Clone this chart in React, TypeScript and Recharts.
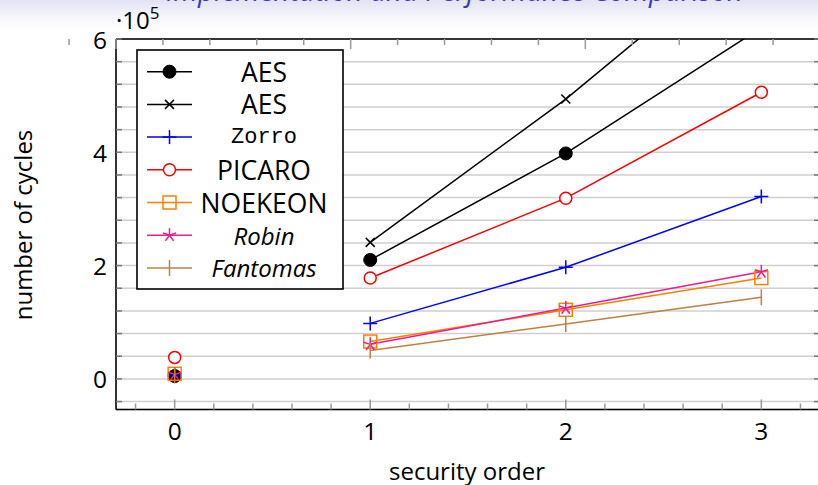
import React from 'react';
import { LineChart, Line, XAxis, YAxis, CartesianGrid } from 'recharts';

// ---------- data (number of cycles, in units of 10^5) ----------
const securityOrders = [0, 1, 2, 3];
const aesDotCycles = [0.05, 2.1, 3.98, 6.2];
const aesCrossCycles = [0.06, 2.41, 4.94, 7.79];
const zorroCycles = [0.08, 0.98, 1.97, 3.22];
const picaroCycles = [0.38, 1.78, 3.19, 5.06];
const noekeonCycles = [0.09, 0.66, 1.22, 1.78];
const robinCycles = [0.08, 0.61, 1.25, 1.89];
const fantomasCycles = [0.06, 0.5, 0.97, 1.44];

const xTicks = [-0.2, 0, 0.2, 0.4, 0.6, 0.8, 1, 1.2, 1.4, 1.6, 1.8, 2, 2.2, 2.4, 2.6, 2.8, 3, 3.2];
const xTickLabels = [0, 1, 2, 3];
const yTicks = [-0.4, 0, 0.4, 0.8, 1.2, 1.6, 2, 2.4, 2.8, 3.2, 3.6, 4, 4.4, 4.8, 5.2, 5.6, 6];
const yTickLabels = [0, 2, 4, 6];

const titleText = 'Implementation and Performance Comparison';
const xLabel = 'security order';
const yLabel = 'number of cycles';

// ---------- layout ----------
const W = 830;
const H = 485;
const PLOT_LEFT = 116;
const PLOT_RIGHT = 820;
const PLOT_TOP = 39;
const PLOT_BOTTOM = 409.5;
const X_AXIS_H = 30;
const Y_AXIS_W = 30;
const TOP_AXIS_H = 10;
const RIGHT_AXIS_W = 10;
const MARGIN = {
  top: PLOT_TOP - TOP_AXIS_H,
  right: W - PLOT_RIGHT - RIGHT_AXIS_W,
  bottom: H - PLOT_BOTTOM - X_AXIS_H,
  left: PLOT_LEFT - Y_AXIS_W,
};
const X_DOMAIN: [number, number] = [-0.3, 3.3];
const Y_DOMAIN: [number, number] = [-0.54, 6];
const FONT = '"Open Sans", "DejaVu Sans", sans-serif';
const TICK_COLOR = '#999999';

type MarkerKind = 'dot' | 'cross' | 'plus' | 'circle' | 'square' | 'star' | 'bar';

const series: {
  key: string;
  name: string;
  values: number[];
  color: string;
  marker: MarkerKind;
  font: string;
  italic?: boolean;
  size: number;
}[] = [
  { key: 'aesDot', name: 'AES', values: aesDotCycles, color: '#000000', marker: 'dot', font: FONT, size: 26.5 },
  { key: 'aesCross', name: 'AES', values: aesCrossCycles, color: '#000000', marker: 'cross', font: FONT, size: 26.5 },
  { key: 'zorro', name: 'Zorro', values: zorroCycles, color: '#0000ff', marker: 'plus', font: '"Liberation Mono", "DejaVu Sans Mono", monospace', size: 22 },
  { key: 'picaro', name: 'PICARO', values: picaroCycles, color: '#ff0000', marker: 'circle', font: FONT, size: 26.5 },
  { key: 'noekeon', name: 'NOEKEON', values: noekeonCycles, color: '#ff8000', marker: 'square', font: FONT, size: 26.5 },
  { key: 'robin', name: 'Robin', values: robinCycles, color: '#ea1e8e', marker: 'star', font: FONT, italic: true, size: 24 },
  { key: 'fantomas', name: 'Fantomas', values: fantomasCycles, color: '#bf8040', marker: 'bar', font: FONT, italic: true, size: 24 },
];

// rows: order 0 is an isolated mark, orders 1..3 are connected
const rows = securityOrders.map((order, i) => {
  const row: Record<string, number> = { order };
  series.forEach((s) => {
    if (i === 0) row[s.key + '_start'] = s.values[i];
    else row[s.key] = s.values[i];
  });
  return row;
});

const near = (a: number, list: number[]) => list.some((v) => Math.abs(v - a) < 1e-6);

function Marker({ kind, x, y, color }: { kind: MarkerKind; x: number; y: number; color: string }) {
  const sw = 1.5;
  switch (kind) {
    case 'dot':
      return <circle cx={x} cy={y} r={6.5} fill={color} stroke={color} strokeWidth={1} />;
    case 'cross':
      return (
        <g stroke={color} strokeWidth={sw}>
          <line x1={x - 4.5} y1={y - 4.5} x2={x + 4.5} y2={y + 4.5} />
          <line x1={x - 4.5} y1={y + 4.5} x2={x + 4.5} y2={y - 4.5} />
        </g>
      );
    case 'plus':
      return (
        <g stroke={color} strokeWidth={sw}>
          <line x1={x - 7} y1={y} x2={x + 7} y2={y} />
          <line x1={x} y1={y - 7} x2={x} y2={y + 7} />
        </g>
      );
    case 'circle':
      return <circle cx={x} cy={y} r={6} fill="#ffffff" stroke={color} strokeWidth={sw} />;
    case 'square':
      return <rect x={x - 6.5} y={y - 6.5} width={13} height={13} fill="none" stroke={color} strokeWidth={sw} />;
    case 'star': {
      const arms = [0, 1, 2, 3, 4].map((k) => {
        const a = -Math.PI / 2 + (k * 2 * Math.PI) / 5;
        return <line key={k} x1={x} y1={y} x2={x + 7 * Math.cos(a)} y2={y + 7 * Math.sin(a)} />;
      });
      return <g stroke={color} strokeWidth={sw}>{arms}</g>;
    }
    case 'bar':
      return <line x1={x} y1={y - 8} x2={x} y2={y + 8} stroke={color} strokeWidth={sw} />;
  }
  return null;
}

const makeDot = (kind: MarkerKind, color: string) => (props: any) => {
  const { cx, cy, index } = props;
  const k = `${kind}-${index}`;
  if (cx == null || cy == null || Number.isNaN(cx) || Number.isNaN(cy)) return <g key={k} />;
  return (
    <g key={k}>
      <Marker kind={kind} x={cx} y={cy} color={color} />
    </g>
  );
};

const BottomTick = (props: any) => {
  const { x, y, payload } = props;
  const v = payload.value;
  const major = near(v, xTickLabels);
  const axisY = typeof y === 'number' ? y : PLOT_BOTTOM;
  return (
    <g>
      <line x1={x} x2={x} y1={axisY} y2={axisY - (major ? 10 : 6)} stroke={TICK_COLOR} strokeWidth={1.5} />
      {major && (
        <text x={x} y={axisY + 21} textAnchor="middle" dominantBaseline="central" fontSize={24.5} fontFamily={FONT} fill="#000">
          {Math.round(v)}
        </text>
      )}
    </g>
  );
};

const TopTick = (props: any) => {
  const { x, y, payload } = props;
  const major = near(payload.value, xTickLabels);
  const axisY = typeof y === 'number' ? y : PLOT_TOP;
  return <line x1={x} x2={x} y1={axisY} y2={axisY + (major ? 10 : 6)} stroke={TICK_COLOR} strokeWidth={1.5} />;
};

const LeftTick = (props: any) => {
  const { x, y, payload } = props;
  const v = payload.value;
  const major = near(v, yTickLabels);
  const axisX = typeof x === 'number' ? x : PLOT_LEFT;
  return (
    <g>
      <line x1={axisX} x2={axisX + 6} y1={y} y2={y} stroke="#777777" strokeWidth={1.5} />
      {major && (
        <text x={axisX - 9} y={y} textAnchor="end" dominantBaseline="central" fontSize={24.5} fontFamily={FONT} fill="#000">
          {Math.round(v)}
        </text>
      )}
    </g>
  );
};

const RightTick = (props: any) => {
  const { x, y } = props;
  const axisX = typeof x === 'number' ? x : PLOT_RIGHT;
  return <line x1={axisX} x2={axisX - 6} y1={y} y2={y} stroke="#777777" strokeWidth={1.5} />;
};

// legend box geometry
const LEG_X = 137;
const LEG_Y = 50;
const LEG_W = 206;
const LEG_H = 239;
const LEG_ROW0 = 71.7;
const LEG_STEP = 32.7;

export default function App() {
  return (
    <div style={{ position: 'absolute', left: 0, top: 0, width: 818, height: 485, overflow: 'hidden', background: '#ffffff' }}>
      <div
        style={{
          position: 'absolute',
          left: 0,
          top: 0,
          width: 818,
          height: 30,
          background: 'linear-gradient(to bottom, #e2e2f4 0%, #f4f4fb 50%, #ffffff 100%)',
        }}
      />
      <div style={{ position: 'absolute', left: 0, top: 0 }}>
        <LineChart width={W} height={H} data={rows} margin={MARGIN}>
          <CartesianGrid vertical={false} stroke="#cfcfcf" strokeWidth={1.5} />
          <XAxis
            dataKey="order"
            type="number"
            domain={X_DOMAIN}
            ticks={xTicks}
            interval={0}
            height={X_AXIS_H}
            allowDataOverflow
            tickLine={false}
            tickSize={0}
            tickMargin={0}
            tick={<BottomTick />}
            axisLine={{ stroke: '#000', strokeWidth: 1.6 }}
          />
          <XAxis
            xAxisId="top"
            orientation="top"
            type="number"
            domain={X_DOMAIN}
            ticks={xTicks}
            interval={0}
            height={TOP_AXIS_H}
            allowDataOverflow
            tickLine={false}
            tickSize={0}
            tickMargin={0}
            tick={<TopTick />}
            axisLine={{ stroke: '#000', strokeWidth: 1.6 }}
          />
          <YAxis
            type="number"
            domain={Y_DOMAIN}
            ticks={yTicks}
            interval={0}
            width={Y_AXIS_W}
            allowDataOverflow
            tickLine={false}
            tickSize={0}
            tickMargin={0}
            tick={<LeftTick />}
            axisLine={{ stroke: '#000', strokeWidth: 1.6 }}
          />
          <YAxis
            yAxisId="right"
            orientation="right"
            type="number"
            domain={Y_DOMAIN}
            ticks={yTicks}
            interval={0}
            width={RIGHT_AXIS_W}
            allowDataOverflow
            tickLine={false}
            tickSize={0}
            tickMargin={0}
            tick={<RightTick />}
            axisLine={{ stroke: '#000', strokeWidth: 1.6 }}
          />
          {series.map((s) => (
            <Line
              key={s.key}
              dataKey={s.key}
              name={s.name}
              type="linear"
              stroke={s.color}
              strokeWidth={1.5}
              dot={makeDot(s.marker, s.color)}
              activeDot={false}
              connectNulls={false}
              isAnimationActive={false}
            />
          ))}
          {series.map((s) => (
            <Line
              key={s.key + '_start'}
              dataKey={s.key + '_start'}
              name={s.name}
              legendType="none"
              type="linear"
              stroke="none"
              dot={makeDot(s.marker, s.color)}
              activeDot={false}
              isAnimationActive={false}
            />
          ))}
        </LineChart>
      </div>
      <svg
        width={818}
        height={485}
        style={{ position: 'absolute', left: 0, top: 0, pointerEvents: 'none' }}
      >
        <text x={166} y={1} fontSize={28} fontStyle="italic" fontFamily={FONT} fill="#3a3ab6">
          {titleText}
        </text>
        <text x={116} y={29} fontSize={24} fontFamily={FONT} fill="#000">
          ·10
          <tspan fontSize={17} dy={-10}>5</tspan>
        </text>
        <text
          x={22}
          y={225}
          transform="rotate(-90 22 225)"
          textAnchor="middle"
          dominantBaseline="central"
          fontSize={24}
          fontFamily={FONT}
          fill="#000"
        >
          {yLabel}
        </text>
        <text x={467} y={470} textAnchor="middle" dominantBaseline="central" fontSize={24} fontFamily={FONT} fill="#000">
          {xLabel}
        </text>
        <g>
          <rect x={LEG_X} y={LEG_Y} width={LEG_W} height={LEG_H} fill="#ffffff" stroke="#000" strokeWidth={1.6} />
          {series.map((s, i) => {
            const cy = LEG_ROW0 + i * LEG_STEP;
            return (
              <g key={s.key}>
                <line x1={147} x2={192} y1={cy} y2={cy} stroke={s.color} strokeWidth={1.5} />
                <Marker kind={s.marker} x={169.5} y={cy} color={s.color} />
                <text
                  x={264}
                  y={cy}
                  textAnchor="middle"
                  dominantBaseline="central"
                  fontSize={s.size}
                  fontStyle={s.italic ? 'italic' : 'normal'}
                  fontFamily={s.font}
                  fill="#000"
                >
                  {s.name}
                </text>
              </g>
            );
          })}
        </g>
      </svg>
    </div>
  );
}
